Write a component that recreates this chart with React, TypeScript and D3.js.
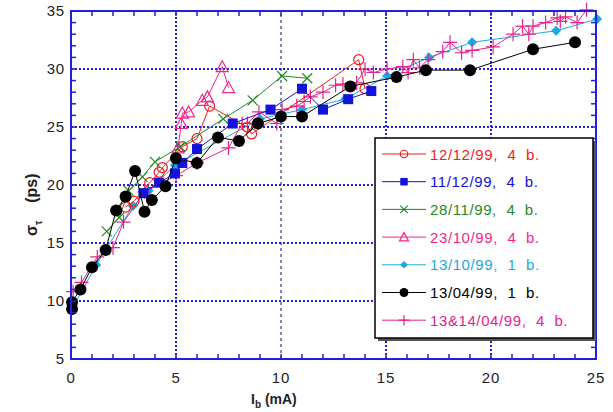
import React from "react";
import { scaleLinear, line, range } from "d3";

const W = 613;
const H = 412;
const margin = { left: 71, right: 17, top: 11, bottom: 53 };

const xTicks = [0, 5, 10, 15, 20, 25];
const yTicks = [5, 10, 15, 20, 25, 30, 35];

const red1212 = [
  [2.6, 18.1], [3.0, 18.6], [3.75, 20.2], [4.2, 21.1], [4.35, 21.5], [5.3, 23.3],
  [6.0, 24.0], [6.6, 26.8], [8.4, 25.0], [8.6, 24.4], [13.7, 30.8], [14.0, 28.3],
];
const blue1112 = [
  [3.45, 19.3], [4.2, 20.2], [4.95, 21.0], [5.3, 21.9], [6.0, 23.1], [7.7, 25.3],
  [9.5, 26.5], [11.0, 28.3], [12.0, 26.5], [13.2, 27.4], [14.3, 28.1],
];
const green2811 = [
  [1.7, 16.0], [2.3, 17.2], [2.75, 19.5], [3.4, 20.7], [4.0, 22.0], [5.2, 23.3],
  [7.25, 25.7], [8.65, 27.3], [10.05, 29.4], [11.25, 29.2],
];
const pink2310 = [
  [5.1, 23.2], [5.25, 25.3], [5.3, 26.2], [5.6, 26.3], [6.25, 27.3], [6.5, 27.6],
  [7.2, 30.2], [7.5, 28.4],
];
const cyan1310 = [
  [0.1, 9.5], [1.2, 13.1], [2.95, 18.2], [3.7, 19.5], [4.95, 21.7], [9.0, 25.7],
  [11.0, 26.5], [13.05, 27.4], [15.05, 29.4], [17.05, 31.0], [19.1, 32.3],
  [23.1, 33.3], [25.05, 34.3],
];
const black1304 = [
  [0.05, 9.3], [0.05, 9.9], [0.45, 11.0], [1.0, 12.9], [1.65, 14.4], [2.15, 17.8],
  [2.6, 19.0], [3.05, 21.2], [3.5, 17.7], [3.85, 18.7], [4.5, 19.9], [5.0, 22.3],
  [6.0, 21.9], [7.0, 24.1], [8.0, 23.8], [8.9, 25.3], [10.0, 25.9], [11.0, 25.9],
  [13.3, 28.5], [15.5, 29.3], [16.9, 29.9], [19.0, 29.9], [22.0, 31.7], [24.0, 32.3],
];
const pink1314 = [
  [0.1, 10.8], [0.5, 11.6], [1.25, 13.8], [2.0, 14.6], [2.5, 16.8], [3.5, 19.4],
  [5.0, 20.8], [6.0, 21.9], [7.5, 23.2], [8.15, 25.3], [8.4, 25.3], [8.95, 26.3],
  [9.8, 25.3], [10.05, 26.5], [10.75, 26.8], [11.1, 27.2], [11.4, 27.6], [12.0, 28.0],
  [12.6, 28.6], [12.95, 28.7], [13.6, 28.8], [14.0, 30.0], [14.4, 29.7], [15.05, 30.0],
  [15.8, 30.2], [16.05, 29.7], [16.3, 30.8], [16.6, 30.1], [17.0, 30.8], [17.7, 31.5],
  [18.05, 32.3], [18.6, 31.4], [19.1, 31.6], [20.1, 31.9], [21.05, 33.0], [21.5, 33.7],
  [21.8, 33.0], [22.0, 33.7], [22.6, 34.0], [23.15, 34.4], [23.3, 34.1], [23.55, 34.5],
  [24.1, 34.0], [24.55, 35.1],
];

const series = [
  { label: "12/12/99,  4  b.", data: red1212, color: "#f01c1c", marker: "circle" },
  { label: "11/12/99,  4  b.", data: blue1112, color: "#1212d8", marker: "square" },
  { label: "28/11/99,  4  b.", data: green2811, color: "#1f8a26", marker: "x" },
  { label: "23/10/99,  4  b.", data: pink2310, color: "#f0288c", marker: "triangle" },
  { label: "13/10/99,  1  b.", data: cyan1310, color: "#1ba8e6", marker: "diamond" },
  { label: "13/04/99,  1  b.", data: black1304, color: "#000000", marker: "dot" },
  { label: "13&14/04/99,  4  b.", data: pink1314, color: "#e8228a", marker: "plus" },
];

// draw order: back to front as in the reference
const drawOrder = [4, 6, 0, 3, 2, 1, 5];

const x = scaleLinear().domain([0, 25]).range([margin.left, W - margin.right]);
const y = scaleLinear().domain([5, 35]).range([H - margin.bottom, margin.top]);

function Marker({ type, cx, cy, color, s = 1 }) {
  switch (type) {
    case "circle":
      return <circle cx={cx} cy={cy} r={5 * s} fill="none" stroke={color} strokeWidth={1.2} />;
    case "square":
      return <rect x={cx - 5 * s} y={cy - 5 * s} width={10 * s} height={10 * s} fill={color} />;
    case "x":
      return (
        <path
          d={`M${cx - 5 * s},${cy - 5 * s}L${cx + 5 * s},${cy + 5 * s}M${cx - 5 * s},${cy + 5 * s}L${cx + 5 * s},${cy - 5 * s}`}
          stroke={color}
          strokeWidth={1.2}
        />
      );
    case "triangle":
      return (
        <path
          d={`M${cx},${cy - 6 * s}L${cx + 6 * s},${cy + 5 * s}L${cx - 6 * s},${cy + 5 * s}Z`}
          fill="none"
          stroke={color}
          strokeWidth={1.2}
        />
      );
    case "diamond":
      return (
        <path
          d={`M${cx},${cy - 5 * s}L${cx + 5 * s},${cy}L${cx},${cy + 5 * s}L${cx - 5 * s},${cy}Z`}
          fill={color}
        />
      );
    case "dot":
      return <circle cx={cx} cy={cy} r={6 * s} fill={color} />;
    case "plus":
      return (
        <path
          d={`M${cx - 7 * s},${cy}L${cx + 7 * s},${cy}M${cx},${cy - 7 * s}L${cx},${cy + 7 * s}`}
          stroke={color}
          strokeWidth={1.2}
        />
      );
    default:
      return null;
  }
}

export default function App() {
  const path = line()
    .x((d) => x(d[0]))
    .y((d) => y(d[1]));

  const x0 = x(0), x1 = x(25), y0 = y(5), y1 = y(35);
  const axisColor = "#2020e0";
  const minorX = range(0, 26, 1);
  const minorY = range(5, 36, 1);

  const legX = 375, legY = 138, legW = 218, legH = 200, rowH = 27.7;

  return (
    <svg width={W} height={H} style={{ position: "absolute", left: 0, top: 0, fontFamily: "Liberation Sans, Arial, sans-serif" }}>
      <rect width={W} height={H} fill="white" />
      {/* grid */}
      {xTicks.slice(1, -1).map((t) => (
        <line
          key={`gx${t}`}
          x1={x(t)} x2={x(t)} y1={y0} y2={y1}
          stroke={t === 10 ? "#101060" : axisColor}
          strokeWidth={t === 10 ? 1 : 2}
          strokeDasharray={t === 10 ? "3,3" : "2,2"}
        />
      ))}
      {yTicks.slice(1, -1).map((t) => (
        <line
          key={`gy${t}`}
          x1={x0} x2={x1} y1={y(t)} y2={y(t)}
          stroke={axisColor}
          strokeWidth={2}
          strokeDasharray="2,2"
        />
      ))}
      {/* series */}
      {drawOrder.map((i) => {
        const s = series[i];
        return (
          <g key={s.label}>
            <path d={path(s.data)} fill="none" stroke={s.color} strokeWidth={1} />
            {s.data.map((d, j) => (
              <Marker key={j} type={s.marker} cx={x(d[0])} cy={y(d[1])} color={s.color} />
            ))}
          </g>
        );
      })}
      {/* frame and ticks */}
      <rect x={x0} y={y1} width={x1 - x0} height={y0 - y1} fill="none" stroke={axisColor} strokeWidth={2} />
      {minorX.map((t) => (
        <g key={`tx${t}`}>
          <line x1={x(t)} x2={x(t)} y1={y0} y2={y0 - 5} stroke={axisColor} strokeWidth={1.5} />
          <line x1={x(t)} x2={x(t)} y1={y1} y2={y1 + 5} stroke={axisColor} strokeWidth={1.5} />
        </g>
      ))}
      {minorY.map((t) => (
        <g key={`ty${t}`}>
          <line x1={x0} x2={x0 + 5} y1={y(t)} y2={y(t)} stroke={axisColor} strokeWidth={1.5} />
          <line x1={x1} x2={x1 - 5} y1={y(t)} y2={y(t)} stroke={axisColor} strokeWidth={1.5} />
        </g>
      ))}
      {/* tick labels */}
      {xTicks.map((t) => (
        <text key={`lx${t}`} x={x(t)} y={y0 + 24} textAnchor="middle" fontSize={15} letterSpacing={0.8} fill="#222">
          {t}
        </text>
      ))}
      {yTicks.map((t) => (
        <text key={`ly${t}`} x={x0 - 6} y={y(t) + 5} textAnchor="end" fontSize={15} letterSpacing={0.8} fill="#222">
          {t}
        </text>
      ))}
      {/* axis titles */}
      <text x={251} y={404} fontSize={14} fontWeight="bold" fill="#222">
        I<tspan fontSize={10} dy={4}>b</tspan>
        <tspan dy={-4}> (mA)</tspan>
      </text>
      <text transform="translate(37,236) rotate(-90)" fontSize={16} fontWeight="bold" fill="#222">
        σ<tspan fontSize={10} dy={5}>τ</tspan>
        <tspan dy={-5} style={{ whiteSpace: "pre" }}>{"    (ps)"}</tspan>
      </text>
      {/* legend */}
      <rect x={legX + 3} y={legY + 3} width={legW} height={legH} fill="#555" />
      <rect x={legX} y={legY} width={legW} height={legH} fill="white" stroke="#000" strokeWidth={1.5} />
      {series.map((s, i) => {
        const ly = legY + 16 + i * rowH;
        return (
          <g key={`leg${i}`}>
            <line x1={legX + 7} x2={legX + 51} y1={ly} y2={ly} stroke={s.color} strokeWidth={1} />
            <Marker type={s.marker} cx={legX + 29} cy={ly} color={s.color} s={0.75} />
            <text x={legX + 55} y={ly + 5.5} fontSize={15} letterSpacing={0.6} fill={s.color} style={{ whiteSpace: "pre" }}>
              {s.label}
            </text>
          </g>
        );
      })}
    </svg>
  );
}
